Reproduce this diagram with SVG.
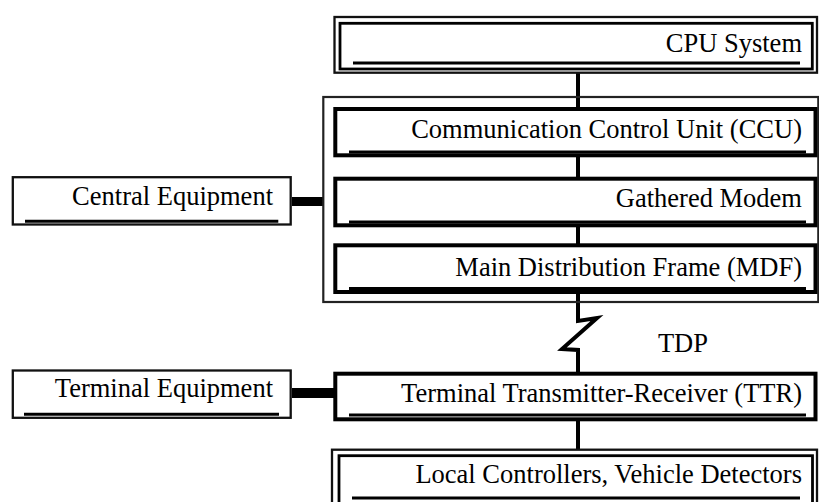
<svg xmlns="http://www.w3.org/2000/svg" width="819" height="502" viewBox="0 0 819 502">
<style>
.t{font-family:"Liberation Serif","Times New Roman",serif;font-size:26.5px;fill:#000;text-anchor:end}
.thin{fill:#fff;stroke:#111;stroke-width:2.3}
.thick{fill:#fff;stroke:#000;stroke-width:4}
.inner{fill:none;stroke:#000;stroke-width:2.8}
.ul{stroke:#000;stroke-width:3;fill:none}
.wire{stroke:#000;stroke-width:4;fill:none}
.bar{stroke:#000;fill:none}
</style>
<rect width="819" height="502" fill="#fff"/>
<g id="connectors">
<line class="wire" x1="578" y1="73" x2="578" y2="108"/>
<line class="wire" x1="578" y1="156" x2="578" y2="178"/>
<line class="wire" x1="578" y1="226" x2="578" y2="245"/>
<polyline class="wire" points="578,292 578,321 597,318 562,349 578,350 578,373" stroke-linejoin="miter"/>
<line class="wire" x1="578" y1="420" x2="578" y2="449"/>
<line class="bar" x1="292" y1="201.5" x2="323" y2="201.5" stroke-width="9"/>
<line class="bar" x1="292" y1="393" x2="335" y2="393" stroke-width="10"/>
</g>
<g id="cpu-system">
<rect class="thin" x="334.5" y="17" width="482.5" height="55.7" stroke-width="2"/>
<rect class="inner" x="340" y="23.3" width="472.3" height="45.7"/>
<line class="ul" x1="353" y1="63" x2="800" y2="63"/>
<text class="t" x="802" y="52">CPU System</text>
</g>
<g id="central-container">
<rect x="323.3" y="97" width="495" height="205" fill="none" stroke="#222" stroke-width="2.2"/>
</g>
<g id="ccu">
<rect class="thick" x="335.3" y="109" width="480.2" height="46.3"/>
<line class="ul" x1="349" y1="152" x2="806" y2="152"/>
<text class="t" x="802" y="138">Communication Control Unit (CCU)</text>
</g>
<g id="gathered-modem">
<rect class="thick" x="335.3" y="178.7" width="480.2" height="46.6"/>
<line class="ul" x1="349" y1="222" x2="806" y2="222"/>
<text class="t" x="802" y="207">Gathered Modem</text>
</g>
<g id="mdf">
<rect class="thick" x="335.3" y="245.3" width="480.2" height="46.7"/>
<line class="ul" x1="349" y1="288.5" x2="806" y2="288.5"/>
<text class="t" x="802" y="276">Main Distribution Frame (MDF)</text>
</g>
<g id="central-equipment">
<rect class="thin" x="12.8" y="177.2" width="277.9" height="47.3"/>
<line class="ul" x1="25" y1="221.2" x2="278.3" y2="221.2"/>
<text class="t" x="273" y="205">Central Equipment</text>
</g>
<g id="tdp-label">
<text class="t" x="708" y="352" style="text-anchor:end">TDP</text>
</g>
<g id="ttr">
<rect class="thick" x="335.3" y="373.7" width="480.2" height="45.6"/>
<line class="ul" x1="349" y1="415" x2="806" y2="415"/>
<text class="t" x="802" y="402">Terminal Transmitter-Receiver (TTR)</text>
</g>
<g id="terminal-equipment">
<rect class="thin" x="12.8" y="370.5" width="277.9" height="47.3"/>
<line class="ul" x1="24" y1="414.3" x2="279" y2="414.3"/>
<text class="t" x="273" y="397">Terminal Equipment</text>
</g>
<g id="local-controllers">
<rect class="thin" x="332" y="449.7" width="485" height="60" stroke-width="2"/>
<rect class="inner" x="339" y="455.7" width="473.5" height="50"/>
<line class="ul" x1="352" y1="498" x2="800" y2="498"/>
<text class="t" x="802" y="483">Local Controllers, Vehicle Detectors</text>
</g>
</svg>
